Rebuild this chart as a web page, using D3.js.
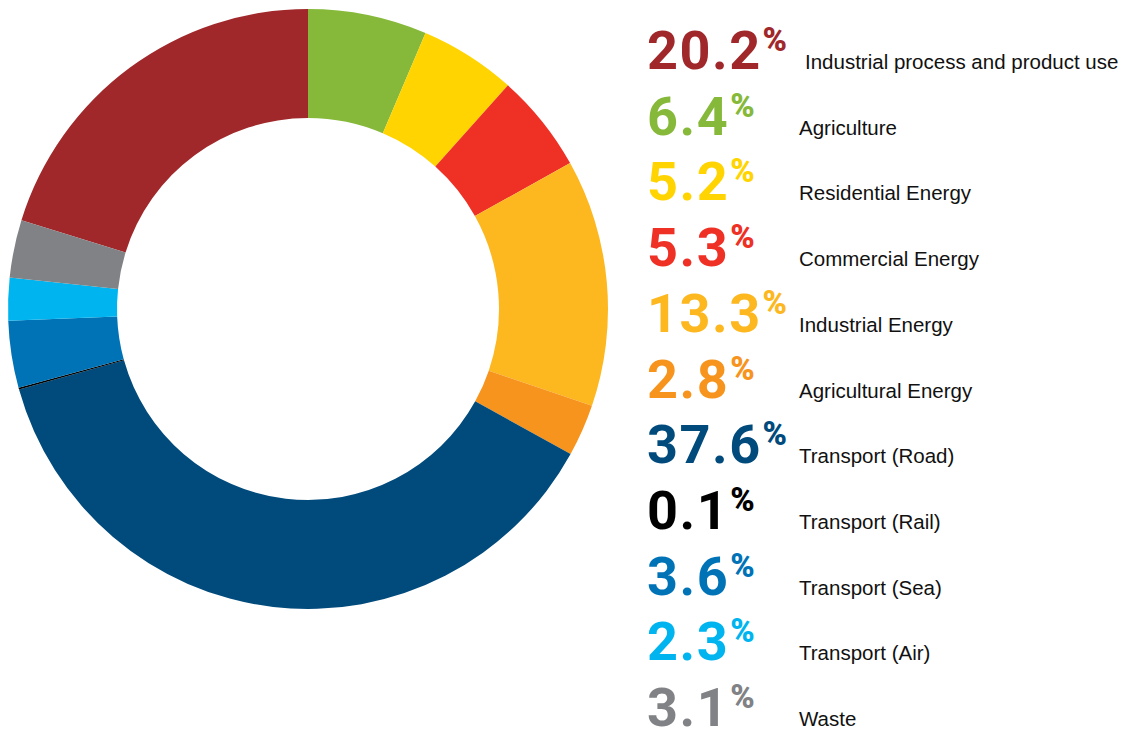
<!DOCTYPE html>
<html>
<head>
<meta charset="utf-8">
<script src="https://cdn.jsdelivr.net/npm/d3@7"></script>
<style>
  body { margin: 0; background: #fff; }
  svg { display: block; }
</style>
</head>
<body>
<svg id="chart"></svg>
<script>
// Chart data (legend order)
const categories = [
  "Industrial process and product use",
  "Agriculture",
  "Residential Energy",
  "Commercial Energy",
  "Industrial Energy",
  "Agricultural Energy",
  "Transport (Road)",
  "Transport (Rail)",
  "Transport (Sea)",
  "Transport (Air)",
  "Waste",
];
const shares = [20.2, 6.4, 5.2, 5.3, 13.3, 2.8, 37.6, 0.1, 3.6, 2.3, 3.1];
const colors = [
  "#a0282a", "#86b93a", "#ffd400", "#ee3124", "#fdb71f", "#f7941d",
  "#004a7c", "#000000", "#0073b7", "#00b5ef", "#808285",
];

const width = 1127;
const height = 731;
const cx = 308, cy = 309;
const outerR = 300, innerR = 191;

const data = categories.map((name, i) => ({ name, value: shares[i], color: colors[i] }));

const svg = d3.select("#chart").attr("width", width).attr("height", height);

// first slice (industrial process) ends at 12 o'clock, the rest run clockwise from there
const total = d3.sum(shares);
const start = -(shares[0] / total) * 2 * Math.PI;

const pie = d3.pie()
  .sort(null)
  .value((d) => d.value)
  .startAngle(start)
  .endAngle(start + 2 * Math.PI);

const arc = d3.arc().innerRadius(innerR).outerRadius(outerR);

const donut = svg.append("g").attr("transform", `translate(${cx},${cy})`);

donut.selectAll("path")
  .data(pie(data))
  .join("path")
  .attr("d", arc)
  .attr("fill", (d) => d.data.color);

// Legend
const yScale = d3.scaleLinear().domain([0, categories.length - 1]).range([69, 726]);

const legend = svg.append("g");

const rows = legend.selectAll("g.row")
  .data(data)
  .join("g")
  .attr("class", "row")
  .attr("transform", (d, i) => `translate(0,${yScale(i)})`);

const num = rows.append("text")
  .attr("x", 647)
  .attr("y", 0)
  .attr("fill", (d) => d.color)
  .style("font-family", "Roboto, 'DejaVu Sans', sans-serif")
  .style("font-weight", 700)
  .style("font-size", "54px")
  .style("letter-spacing", "1.5px");

num.append("tspan").text((d) => d3.format(".1f")(d.value));
num.append("tspan")
  .attr("dy", -18)
  .attr("dx", 1)
  .style("font-size", "33px")
  .style("font-weight", 900)
  .style("letter-spacing", "0px")
  .text("%");

rows.append("text")
  .attr("x", (d, i) => (i === 0 ? 805 : 799))
  .attr("y", 0)
  .attr("fill", "#111")
  .style("font-family", "'Liberation Sans', Arial, sans-serif")
  .style("font-size", "20.5px")
  .text((d) => d.name);
</script>
</body>
</html>
